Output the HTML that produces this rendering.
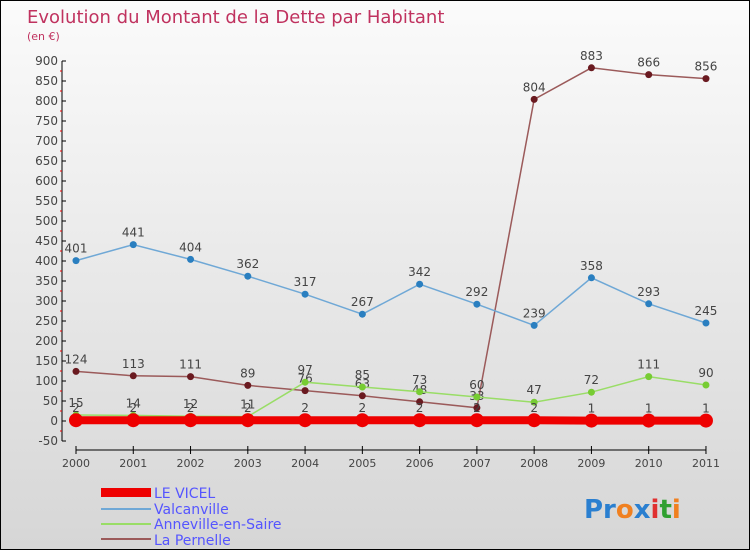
<!DOCTYPE html>
<html><head><meta charset="utf-8"><style>
body{margin:0}
#c{width:748px;height:548px;border:1px solid #000;background:linear-gradient(#fbfbfb,#d6d6d6);position:relative;font-family:"DejaVu Sans","Liberation Sans",sans-serif}
</style></head><body>
<div id="c">
<svg id="s" width="748" height="548" style="position:absolute;left:0;top:0">
<text x="26" y="22" font-size="18" fill="#c0325f">Evolution du Montant de la Dette par Habitant</text>
<text x="26" y="39" font-size="11" fill="#c0325f">(en €)</text>
<g id="axes"></g><g id="series"></g>
<g>
<rect x="100" y="487" width="50" height="9" fill="#ee0000"/>
<text x="153" y="497" font-size="14" fill="#5555ff">LE VICEL</text>
<line x1="100" y1="508" x2="150" y2="508" stroke="#6fa8d6" stroke-width="2"/>
<text x="153" y="513" font-size="14" fill="#5555ff">Valcanville</text>
<line x1="100" y1="523" x2="150" y2="523" stroke="#99dd66" stroke-width="2"/>
<text x="153" y="528" font-size="14" fill="#5555ff">Anneville-en-Saire</text>
<line x1="100" y1="538" x2="150" y2="538" stroke="#9b5a5a" stroke-width="2"/>
<text x="153" y="544" font-size="14" fill="#5555ff">La Pernelle</text>
</g>
<text x="583" y="517" font-size="26" font-weight="bold"><tspan fill="#2a7fd0">Pr</tspan><tspan fill="#f08020">o</tspan><tspan fill="#2a7fd0">x</tspan><tspan fill="#e03030">i</tspan><tspan fill="#30a030">t</tspan><tspan fill="#f08020">i</tspan></text>
</svg>
</div>
<script>
const years=["2000","2001","2002","2003","2004","2005","2006","2007","2008","2009","2010","2011"];
const yTicks=[900,850,800,750,700,650,600,550,500,450,400,350,300,250,200,150,100,50,0,-50];
const leVicel=[2,2,2,2,2,2,2,2,2,1,1,1];
const valcanville=[401,441,404,362,317,267,342,292,239,358,293,245];
const anneville=[15,14,12,11,97,85,73,60,47,72,111,90];
const laPernelle=[124,113,111,89,76,63,48,33,804,883,866,856];
const NS="http://www.w3.org/2000/svg";
const X=i=>75+i*57.27;
const Y=v=>420-v*0.4;
function mk(t,a,p){const e=document.createElementNS(NS,t);for(const k in a)e.setAttribute(k,a[k]);p.appendChild(e);return e;}
const ax=document.getElementById('axes'),sg=document.getElementById('series');
let l=mk('line',{x1:61,y1:60,x2:61,y2:440,stroke:'#000'},ax);


l=mk('line',{x1:75,y1:449,x2:705,y2:449,stroke:'#000'},ax);


yTicks.forEach(v=>{const y=Y(v);
mk('line',{x1:61,y1:y,x2:65,y2:y,stroke:'#000'},ax);
if(v>-50)mk('line',{x1:59,y1:y+10,x2:61,y2:y+10,stroke:'#e00'},ax);
const t=mk('text',{x:57,y:y+4,'font-size':12,fill:'#444','text-anchor':'end'},ax);t.textContent=v;

});
years.forEach((yr,i)=>{mk('line',{x1:X(i),y1:445,x2:X(i),y2:453,stroke:'#000'},ax);
const t=mk('text',{x:X(i),y:466,'font-size':11,fill:'#444','text-anchor':'middle'},ax);t.textContent=yr;

});
function series(d,col,dot,w,r,name){
const p=mk('polyline',{points:d.map((v,i)=>X(i)+','+Y(v)).join(' '),fill:'none',stroke:col,'stroke-width':w},sg);


d.forEach((v,i)=>{const c=mk('circle',{cx:X(i),cy:Y(v),r:r,fill:dot},sg);


const t=mk('text',{x:X(i),y:Y(v)-8,'font-size':12,fill:'#444','text-anchor':'middle'},sg);t.textContent=v;

});}
series(laPernelle,'#9b5a5a','#6a1a20',1.5,3.5,'la-pernelle');
series(valcanville,'#6fa8d6','#2a7fc0',1.5,3.5,'valcanville');
series(anneville,'#99dd66','#77cc33',1.5,3.5,'anneville');
series(leVicel,'#ee0000','#ee0000',8,7,'le-vicel');
</script>
</body></html>
